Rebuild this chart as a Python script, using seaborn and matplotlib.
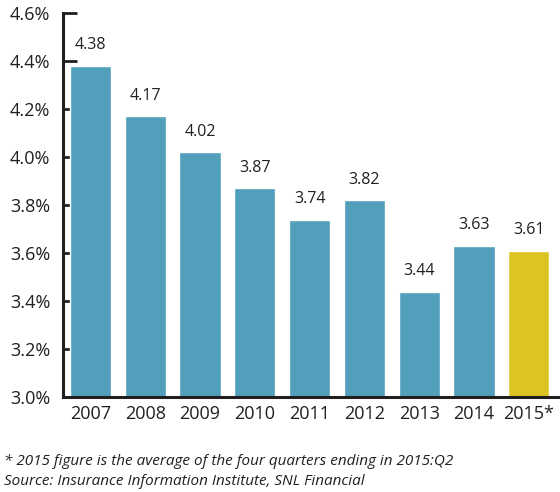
import pandas as pd
import matplotlib.pyplot as plt
import seaborn as sns
from matplotlib.ticker import FuncFormatter

# Values
years = ["2007", "2008", "2009", "2010", "2011", "2012", "2013", "2014", "2015*"]
rates = [4.38, 4.17, 4.02, 3.87, 3.74, 3.82, 3.44, 3.63, 3.61]

df = pd.DataFrame({"Year": years, "Rate": rates})

sns.set_theme(style="ticks")
plt.rcParams["font.family"] = ["Open Sans", "DejaVu Sans"]

fig = plt.figure(figsize=(5.6, 4.92), dpi=100)
ax = fig.add_axes([0.1125, 0.193, 0.8875, 0.780])

palette = ["#519fba"] * 8 + ["#dcc423"]
sns.barplot(data=df, x="Year", y="Rate", hue="Year", palette=palette,
            legend=False, width=0.75, saturation=1, ax=ax)

# value labels over the bars
for i, v in enumerate(rates):
    ax.text(i, v + 0.07, f"{v:.2f}", ha="center", va="baseline",
            fontsize=11.5, color="#231f20")

ax.set_ylim(3.0, 4.6)
ax.set_yticks([3.0, 3.2, 3.4, 3.6, 3.8, 4.0, 4.2, 4.4, 4.6])
ax.yaxis.set_major_formatter(FuncFormatter(lambda y, _: f"{y:.1f}%"))
ax.set_xlim(-0.5, 8.57)
ax.set_xlabel("")
ax.set_ylabel("")
ax.tick_params(axis="x", labelsize=13, colors="#231f20", length=0, pad=6)
ax.tick_params(axis="y", labelsize=13, colors="#231f20", length=10,
               direction="in", width=2, pad=9)
sns.despine(ax=ax)
for side in ["left", "bottom"]:
    ax.spines[side].set_color("#231f20")
    ax.spines[side].set_linewidth(2.2)

fig.text(0.008, 0.055, "* 2015 figure is the average of the four quarters ending in 2015:Q2",
         fontsize=11, style="italic", color="#231f20", va="baseline")
fig.text(0.008, 0.015, "Source: Insurance Information Institute, SNL Financial",
         fontsize=11, style="italic", color="#231f20", va="baseline")

fig.savefig("out.png", dpi=100)
